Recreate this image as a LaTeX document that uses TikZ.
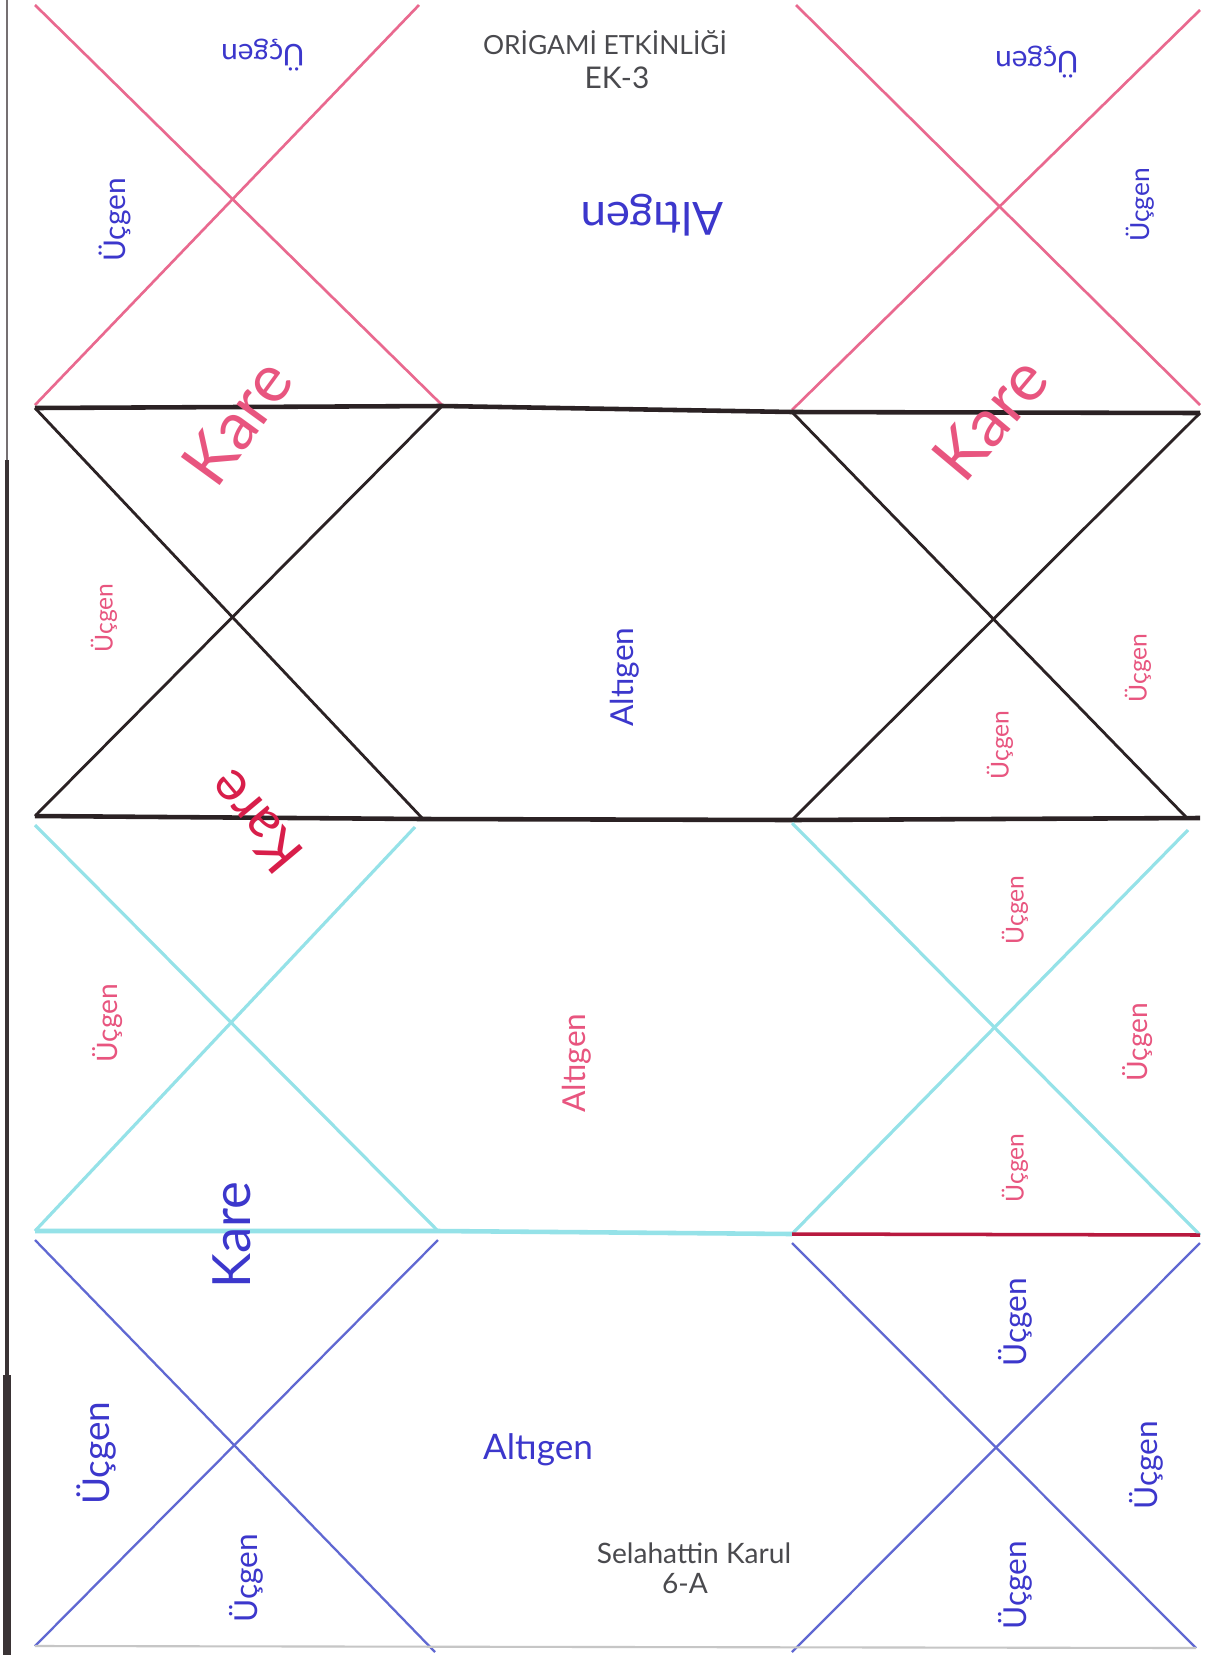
\documentclass[tikz,border=0pt]{standalone}
\usepackage{fontspec}
\setmainfont{Lato}
\usetikzlibrary{positioning}
\definecolor{pinkpen}{HTML}{E9698F}
\definecolor{pinkink}{HTML}{E8557F}
\definecolor{redink}{HTML}{D81E4A}
\definecolor{blackpen}{HTML}{2B2224}
\definecolor{cyanpen}{HTML}{95E2E8}
\definecolor{bluepen}{HTML}{6068D2}
\definecolor{blueink}{HTML}{3C37CC}
\definecolor{grayink}{HTML}{4A4A4E}
\definecolor{edgegray}{HTML}{3A3335}
\tikzset{
    pinkline/.style={draw=pinkpen, line width=0.75pt},
    blackline/.style={draw=blackpen, line width=0.8pt},
    blackedge/.style={draw=blackpen, line width=1.3pt},
    cyanline/.style={draw=cyanpen, line width=0.9pt},
    blueline/.style={draw=bluepen, line width=0.65pt},
    blueword/.style={text=blueink, inner sep=0pt},
    pinkword/.style={text=pinkink, inner sep=0pt},
    grayword/.style={text=grayink, inner sep=0pt},
}
\newcommand{\fs}[1]{\fontsize{#1}{#1}\selectfont}

\begin{document}
\begin{tikzpicture}[x=0.1mm, y=-0.1mm]
    \useasboundingbox[fill=white] (0,0) rectangle (1205,1655);

    % sheet edge
    \coordinate (e0) at (7,0);
    \coordinate (e1) at (7,460);
    \coordinate (e2) at (7,1375);
    \coordinate (e3) at (7,1655);
    \draw[edgegray!70, line width=0.4pt] (e0) -- (e1);
    \draw[edgegray, line width=1pt] (e1) -- (e2);
    \draw[edgegray, line width=2pt] (e2) -- (e3);

    % top band (pink)
    \coordinate (t1) at (35,5);
    \coordinate (t2) at (419,5);
    \coordinate (t3) at (796,5);
    \coordinate (t4) at (1200,10);
    \coordinate (t5) at (35,405);
    \coordinate (t6) at (442,405);
    \coordinate (t7) at (792,410);
    \coordinate (t8) at (1200,405);
    \draw[pinkline] (t5) -- (t2);
    \draw[pinkline] (t6) -- (t1);
    \draw[pinkline] (t7) -- (t4);
    \draw[pinkline] (t8) -- (t3);

    % second band (black)
    \coordinate (m1) at (35,408);
    \coordinate (m2) at (442,406);
    \coordinate (m3) at (792,412);
    \coordinate (m4) at (1200,413);
    \coordinate (m5) at (35,816);
    \coordinate (m6) at (423,819);
    \coordinate (m7) at (792,820);
    \coordinate (m8) at (1186,817);
    \coordinate (m9) at (1200,818);
    \draw[blackedge] (m1) -- (m2) -- (m3) -- (m4);
    \draw[blackedge] (m5) -- (m6) -- (m7) -- (m9);
    \draw[blackline] (m1) -- (m6);
    \draw[blackline] (m2) -- (m5);
    \draw[blackline] (m3) -- (m8);
    \draw[blackline] (m4) -- (m7);

    % third band (cyan)
    \coordinate (c1) at (35,825);
    \coordinate (c2) at (415,827);
    \coordinate (c3) at (792,823);
    \coordinate (c4) at (1188,830);
    \coordinate (c5) at (35,1231);
    \coordinate (c6) at (438,1231);
    \coordinate (c7) at (792,1234);
    \coordinate (c8) at (1200,1235);
    \draw[cyanline] (c1) -- (c6);
    \draw[cyanline] (c2) -- (c5);
    \draw[cyanline] (c3) -- (c8);
    \draw[cyanline] (c4) -- (c7);
    \draw[cyanline, line width=1.3pt] (c5) -- (c6) -- (c7);
    \draw[redink!85!black, line width=1pt] (c7) -- (c8);

    % bottom band (blue)
    \coordinate (b1) at (35,1240);
    \coordinate (b2) at (438,1240);
    \coordinate (b3) at (792,1243);
    \coordinate (b4) at (1200,1243);
    \coordinate (b5) at (35,1646);
    \coordinate (b6) at (435,1652);
    \coordinate (b7) at (792,1652);
    \coordinate (b8) at (1196,1648);
    \draw[blueline] (b1) -- (b6);
    \draw[blueline] (b2) -- (b5);
    \draw[blueline] (b3) -- (b8);
    \draw[blueline] (b4) -- (b7);
    \draw[gray!45, line width=0.6pt] (b5) -- (b8);

    % labels
    \node[grayword, font=\fs{7.5}] (title) at (605,43) {ORİGAMİ ETKİNLİĞİ};
    \node[grayword, font=\fs{8.5}, below=1mm of title, xshift=1.2mm] (ek) {EK-3};

    \node[blueword, rotate=180, font=\fs{8.5}] (tri1a) at (263,55) {Üçgen};
    \node[blueword, rotate=180, font=\fs{8.5}] (tri1b) at (1037,62) {Üçgen};
    \node[blueword, rotate=90, font=\fs{8.5}] (tri1c) at (115,220) {Üçgen};
    \node[blueword, rotate=90, font=\fs{7.5}] (tri1d) at (1140,205) {Üçgen};
    \node[blueword, rotate=180, font=\fs{13}] (hex1) at (652,215) {Altıgen};

    \node[pinkword, rotate=54, font=\fs{19}] (kare2a) at (237,422) {Kare};
    \node[pinkword, rotate=50, font=\fs{19}] (kare2b) at (990,418) {Kare};
    \node[pinkword, rotate=90, font=\fs{7}] (tri2a) at (104,618) {Üçgen};
    \node[blueword, rotate=90, font=\fs{9}] (hex2) at (625,677) {Altıgen};
    \node[pinkword, rotate=90, font=\fs{7}] (tri2b) at (1138,668) {Üçgen};
    \node[pinkword, rotate=90, font=\fs{7}] (tri2c) at (1000,745) {Üçgen};
    \node[text=redink, inner sep=0pt, rotate=130, font=\fs{16}] (kare2c) at (255,822) {Kare};

    \node[pinkword, rotate=90, font=\fs{8}] (tri3a) at (108,1023) {Üçgen};
    \node[pinkword, rotate=90, font=\fs{9}] (hex3) at (577,1063) {Altıgen};
    \node[pinkword, rotate=90, font=\fs{7}] (tri3b) at (1015,910) {Üçgen};
    \node[pinkword, rotate=90, font=\fs{8}] (tri3c) at (1138,1042) {Üçgen};
    \node[pinkword, rotate=90, font=\fs{7}] (tri3d) at (1015,1168) {Üçgen};
    \node[blueword, rotate=90, font=\fs{15}] (kare3) at (232,1235) {Kare};

    \node[blueword, rotate=90, font=\fs{10.5}] (tri4a) at (96,1453) {Üçgen};
    \node[blueword, rotate=90, font=\fs{9}] (tri4b) at (246,1578) {Üçgen};
    \node[blueword, font=\fs{10}] (hex4) at (538,1450) {Altıgen};
    \node[blueword, rotate=90, font=\fs{9}] (tri4c) at (1015,1322) {Üçgen};
    \node[blueword, rotate=90, font=\fs{9}] (tri4d) at (1146,1465) {Üçgen};
    \node[blueword, rotate=90, font=\fs{9}] (tri4e) at (1015,1585) {Üçgen};
    \node[grayword, font=\fs{8}] (student) at (694,1553) {Selahattin Karul};
    \node[grayword, font=\fs{8}, below=0.8mm of student, xshift=-0.9mm] (grade) {6-A};
\end{tikzpicture}
\end{document}
